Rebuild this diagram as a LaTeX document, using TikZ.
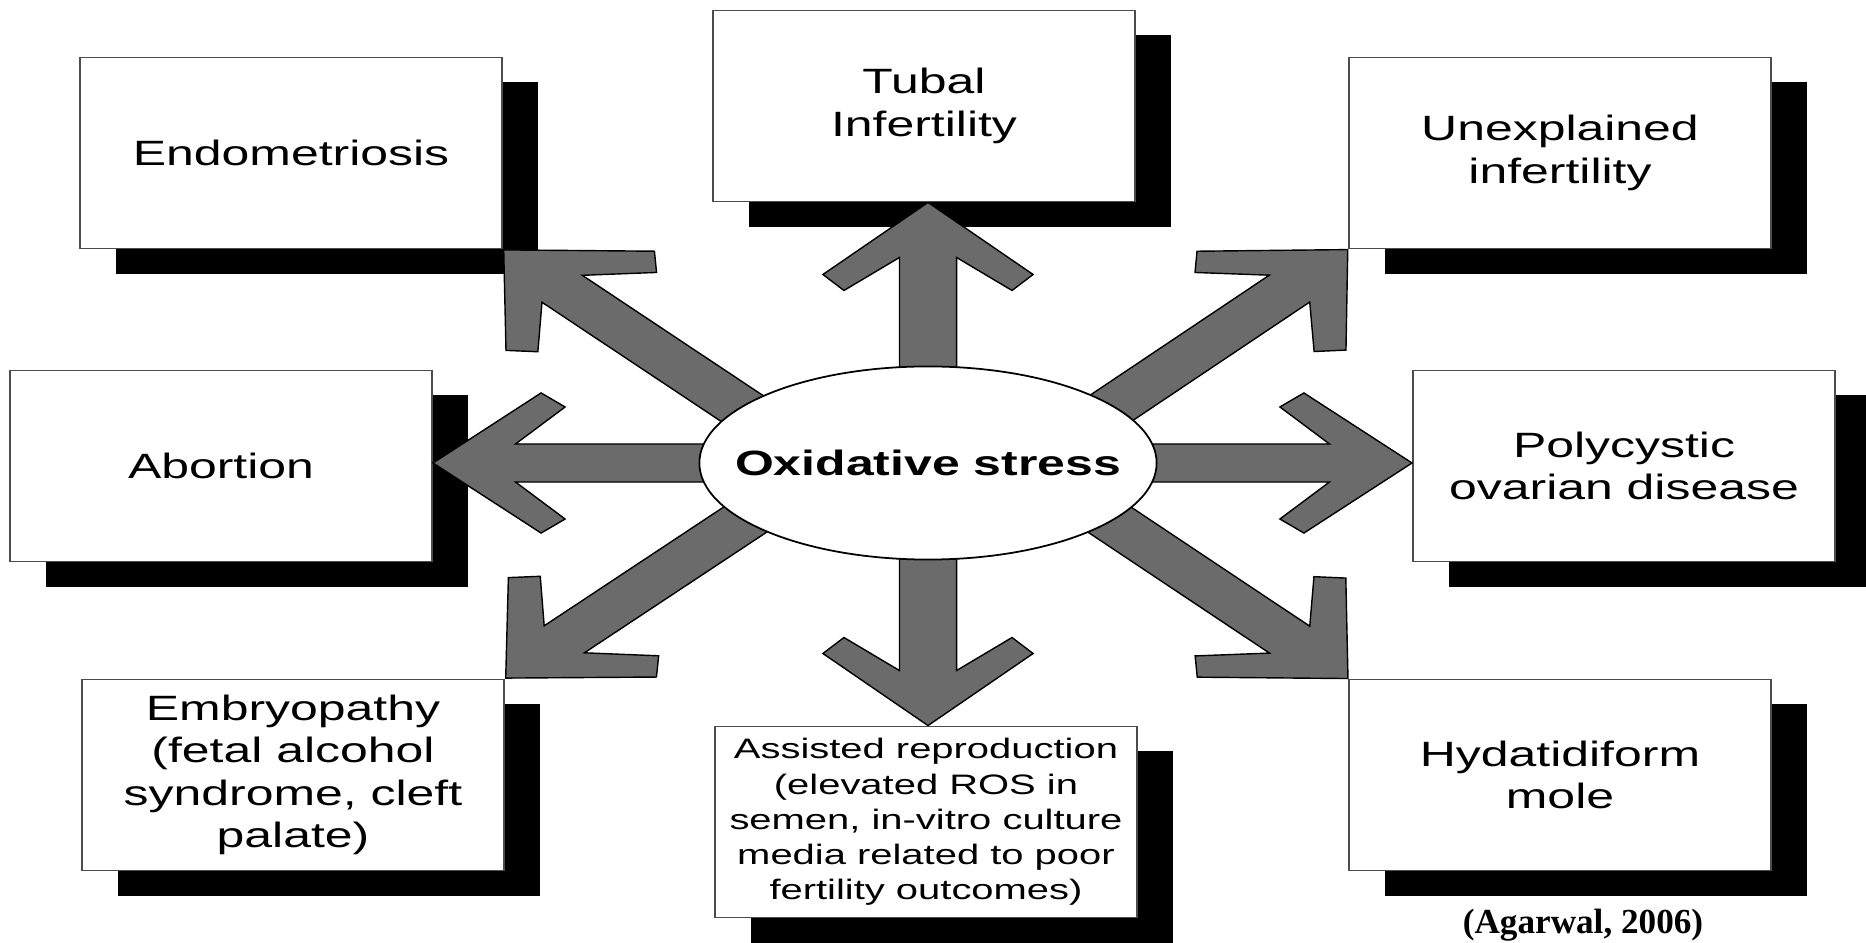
\documentclass[tikz,border=0pt]{standalone}
\usepackage{fontspec}
\setmainfont{Liberation Sans}[FakeStretch=1.42]
\newfontfamily\citefont{Liberation Serif}
\usetikzlibrary{shapes.geometric,shadows,calc}

\pgfdeclarelayer{front}
\pgfsetlayers{main,front}

\tikzset{
  cause/.style={draw=black!70, line width=0.5pt, fill=white,
    minimum width=4.22cm, minimum height=1.91cm, inner sep=0pt,
    align=center, font=\fontsize{10}{12}\selectfont,
    drop shadow={shadow xshift=0.36cm, shadow yshift=-0.25cm, fill=black, opacity=1}},
  fatbody/.style={draw=black, line width=0.4pt, fill=black!58, line join=miter},
}

% block arrow from #1 to tip #2, drawn in a frame squeezed by 1.5 in x
\newcommand{\fatarrow}[2]{%
  \path[fatbody] let \p1=(#1), \p2=(#2),
      \n1={atan2(\y2-\y1,(\x2-\x1)/1.5)},
      \n2={veclen((\x2-\x1)/1.5,\y2-\y1)}
    in [shift={(\p1)}, xscale=1.5, rotate=\n1]
    (0pt,-5.41pt) -- ({\n2-15.65pt},-5.41pt) -- ({\n2-25.04pt},-15.93pt)
    -- ({\n2-20.49pt},-19.92pt) -- (\n2,0pt) -- ({\n2-20.49pt},19.92pt)
    -- ({\n2-25.04pt},15.93pt) -- ({\n2-15.65pt},5.41pt) -- (0pt,5.41pt) -- cycle;
}

\begin{document}
\begin{tikzpicture}[x=0.01cm, y=0.01cm]
\useasboundingbox (0,0) rectangle (1866,-943);

% boxes
\node[cause] (endo)   at (291,-153)  {Endometriosis};
\node[cause] (tubal)  at (924,-106)  {Tubal\\Infertility};
\node[cause] (unexpl) at (1560,-153) {Unexplained\\infertility};
\node[cause] (abort)  at (221,-466)  {Abortion};
\node[cause] (pcod)   at (1624,-466) {Polycystic\\ovarian disease};
\node[cause] (embryo) at (293,-775)  {Embryopathy\\(fetal alcohol\\syndrome, cleft\\palate)};
\node[cause, font=\fontsize{8}{10}\selectfont] (art) at (926,-822)
  {Assisted reproduction\\(elevated ROS in\\semen, in-vitro culture\\media related to poor\\fertility outcomes)};
\node[cause] (mole)   at (1560,-775) {Hydatidiform\\mole};

% centre
\begin{pgfonlayer}{front}
\node[ellipse, draw, line width=0.5pt, fill=white, minimum width=4.57cm,
  minimum height=1.93cm, inner sep=0pt,
  font=\bfseries\fontsize{10}{12}\selectfont] (stress) at (928,-463)
  {\makebox[0pt]{Oxidative stress}};
\end{pgfonlayer}

\node[font=\citefont\bfseries\fontsize{10}{12}\selectfont] (cite) at (1583,-925) {(Agarwal, 2006)};

% arrow tails
\coordinate (ul) at (803,-449);
\coordinate (ur) at (1050,-449);
\coordinate (ll) at (805,-480);
\coordinate (lr) at (1050,-480);

% arrows
\fatarrow{stress.center}{stress.center |- tubal.south}
\fatarrow{stress.center}{stress.center |- art.north}
\fatarrow{stress.center}{abort.east |- stress.center}
\fatarrow{stress.center}{pcod.west |- stress.center}
\fatarrow{ul}{endo.south east}
\fatarrow{ur}{unexpl.south west}
\fatarrow{ll}{embryo.north east}
\fatarrow{lr}{mole.north west}
\end{tikzpicture}
\end{document}
